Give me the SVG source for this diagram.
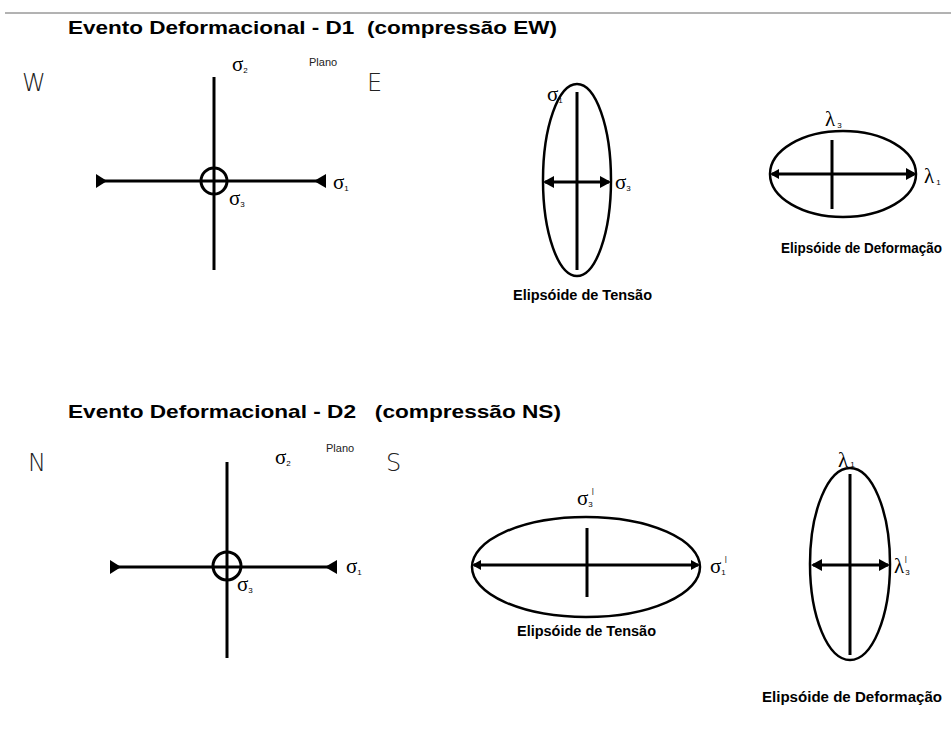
<svg xmlns="http://www.w3.org/2000/svg" width="951" height="734" viewBox="0 0 951 734">
<style>
.t{font-family:"Liberation Sans",Arial,sans-serif;font-weight:bold;font-size:19px;fill:#000;white-space:pre}
.lab{font-family:"Liberation Sans",Arial,sans-serif;font-weight:bold;font-size:14px;fill:#000}
.dir{font-family:"DejaVu Sans","Liberation Sans",sans-serif;font-weight:200;font-size:24px;fill:#222}
.pl{font-family:"Liberation Sans",Arial,sans-serif;font-size:11px;fill:#222}
.sg{font-family:"Liberation Serif",serif;font-size:21px;fill:#000}
.sub{font-family:"Liberation Sans",sans-serif;font-size:8px;fill:#000}
.ln{stroke:#000;stroke-width:3;fill:none}
.el{stroke:#000;stroke-width:2.5;fill:none}
</style>
<line x1="5" y1="13" x2="951" y2="13" stroke="#666" stroke-width="1"/>
<text class="t" x="68" y="34" textLength="489" lengthAdjust="spacingAndGlyphs" xml:space="preserve">Evento Deformacional - D1  (compressão EW)</text>
<text class="t" x="68" y="418" textLength="493" lengthAdjust="spacingAndGlyphs" xml:space="preserve">Evento Deformacional - D2   (compressão NS)</text>

<g id="d1-cross">
<text class="dir" x="22" y="91">W</text>
<text class="dir" x="367" y="91">E</text>
<text class="pl" x="309" y="66">Plano</text>
<line class="ln" x1="214" y1="77" x2="214" y2="270"/>
<line class="ln" x1="97" y1="181" x2="325" y2="181"/>
<circle class="ln" cx="214" cy="181" r="13"/>
<path d="M96,174 L107,181 L96,188 z" fill="#000"/>
<path d="M326,174 L314,181 L326,188 z" fill="#000"/>
<text class="sg" x="232" y="71">σ<tspan class="sub" dy="2">2</tspan></text>
<text class="sg" x="333" y="189">σ<tspan class="sub" dy="2">1</tspan></text>
<text class="sg" x="229" y="205">σ<tspan class="sub" dy="2">3</tspan></text>
</g>

<g id="d1-stress">
<ellipse class="el" cx="577" cy="180" rx="34" ry="96"/>
<line class="ln" x1="577" y1="92" x2="577" y2="270"/>
<line class="ln" x1="545" y1="182" x2="609" y2="182"/>
<path d="M543,182 L554,176 L554,188 z" fill="#000"/>
<path d="M611,182 L600,176 L600,188 z" fill="#000"/>
<text class="sg" x="547" y="101">σ<tspan class="sub" dy="2">1</tspan></text>
<text class="sg" x="615" y="189">σ<tspan class="sub" dy="2">3</tspan></text>
<text class="lab" x="513" y="300" textLength="139" lengthAdjust="spacingAndGlyphs">Elipsóide de Tensão</text>
</g>

<g id="d1-strain">
<ellipse class="el" cx="843" cy="174" rx="73" ry="43"/>
<line class="ln" x1="832" y1="140" x2="832" y2="209"/>
<line class="ln" x1="772" y1="174" x2="914" y2="174"/>
<path d="M770,174 L779,169 L779,179 z" fill="#000"/>
<path d="M917,174 L906,168 L906,180 z" fill="#000"/>
<text class="sg" x="825" y="126">λ<tspan class="sub" dy="2" dx="2">3</tspan></text>
<text class="sg" x="924" y="183">λ<tspan class="sub" dy="2" dx="2">1</tspan></text>
<text class="lab" x="781" y="253" textLength="161" lengthAdjust="spacingAndGlyphs">Elipsóide de Deformação</text>
</g>

<g id="d2-cross">
<text class="dir" x="28" y="471">N</text>
<text class="dir" x="386" y="471">S</text>
<text class="pl" x="326" y="452">Plano</text>
<line class="ln" x1="227" y1="462" x2="227" y2="658"/>
<line class="ln" x1="111" y1="567" x2="336" y2="567"/>
<circle class="ln" cx="227" cy="566" r="14"/>
<path d="M110,560 L121,567 L110,574 z" fill="#000"/>
<path d="M337,560 L325,567 L337,574 z" fill="#000"/>
<text class="sg" x="275" y="464">σ<tspan class="sub" dy="2">2</tspan></text>
<text class="sg" x="346" y="573">σ<tspan class="sub" dy="2">1</tspan></text>
<text class="sg" x="237" y="591">σ<tspan class="sub" dy="2">3</tspan></text>
</g>

<g id="d2-stress">
<ellipse class="el" cx="586" cy="567" rx="114" ry="50"/>
<line class="ln" x1="587" y1="528" x2="587" y2="597"/>
<line class="ln" x1="474" y1="565" x2="698" y2="565"/>
<path d="M472,565 L481,560 L481,570 z" fill="#000"/>
<path d="M700,565 L691,560 L691,570 z" fill="#000"/>
<text class="sg" x="577" y="505">σ<tspan class="sub" dy="2">3</tspan><tspan class="sub" dx="-1" dy="-14">|</tspan></text>
<text class="sg" x="710" y="573">σ<tspan class="sub" dy="2">1</tspan><tspan class="sub" dx="-1" dy="-14">|</tspan></text>
<text class="lab" x="517" y="636" textLength="139" lengthAdjust="spacingAndGlyphs">Elipsóide de Tensão</text>
</g>

<g id="d2-strain">
<ellipse class="el" cx="850" cy="564" rx="40" ry="96"/>
<line class="ln" x1="850" y1="474" x2="850" y2="655"/>
<line class="ln" x1="813" y1="565" x2="888" y2="565"/>
<path d="M811,565 L822,559 L822,571 z" fill="#000"/>
<path d="M890,565 L879,559 L879,571 z" fill="#000"/>
<text class="sg" x="838" y="467">λ<tspan class="sub" dy="0" dx="2">1</tspan></text>
<text class="sg" x="894" y="573">λ<tspan class="sub" dy="2" dx="1">3</tspan><tspan class="sub" dx="-5" dy="-14">|</tspan></text>
<text class="lab" x="762" y="702" textLength="180" lengthAdjust="spacingAndGlyphs">Elipsóide de Deformação</text>
</g>
</svg>
